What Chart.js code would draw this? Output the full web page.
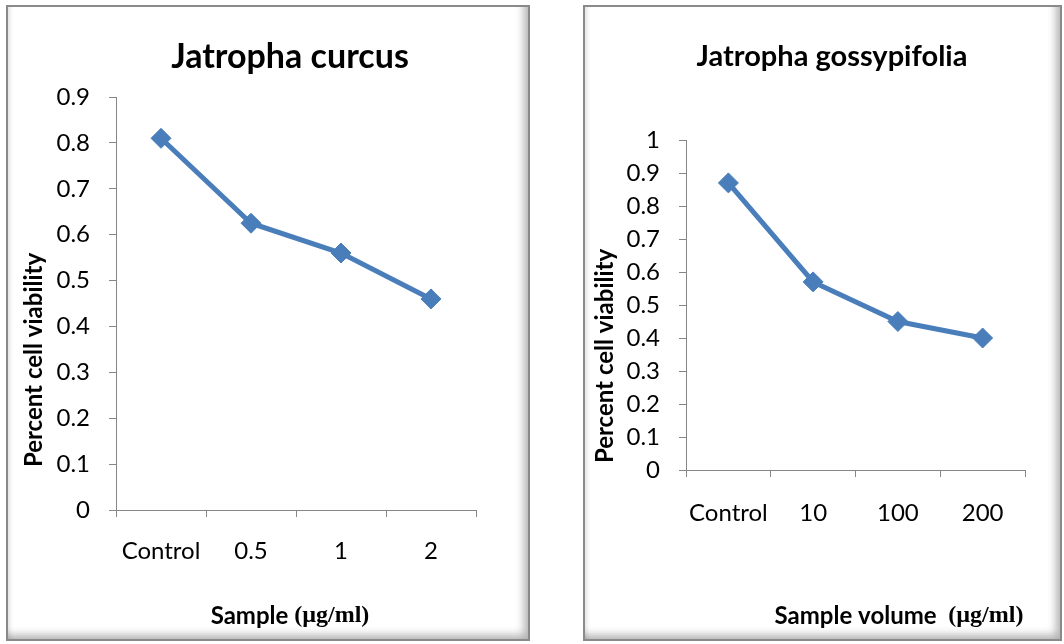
<!DOCTYPE html>
<html>
<head>
<meta charset="utf-8">
<script src="https://cdn.jsdelivr.net/npm/chart.js@4"></script>
<style>
  body { margin: 0; background: #fff; }
  .panel {
    position: absolute;
    top: 5px;
    height: 636px;
    box-sizing: border-box;
    border: 2px solid #8a8a8a;
    background: #fff;
    box-shadow: inset -10px -10px 9px -6px rgba(0, 0, 0, 0.3),
                inset 5px 0 4px -3px rgba(0, 0, 0, 0.12);
  }
  #curcusPanel { left: 6px; width: 524px; }
  #gossypPanel { left: 583px; width: 479px; }
  .panel canvas { position: absolute; left: 0; top: 0; }
</style>
</head>
<body>
<div class="panel" id="curcusPanel"><canvas id="curcusChart" width="520" height="632"></canvas></div>
<div class="panel" id="gossypPanel"><canvas id="gossypChart" width="475" height="632"></canvas></div>
<script>
// Jatropha curcus
const curcusDoses = ['Control', '0.5', '1', '2'];
const curcusViability = [0.81, 0.625, 0.56, 0.46];
const curcusMax = 0.9;

// Jatropha gossypifolia
const gossypDoses = ['Control', '10', '100', '200'];
const gossypViability = [0.87, 0.57, 0.45, 0.40];
const gossypMax = 1;

const blue = '#4a7ebb';
const axisGrey = '#868686';
const sans = 'Lato';

Chart.defaults.font.family = sans;
Chart.defaults.color = '#000';

// draws the chart title and axis titles, each as one or more font runs
const panelText = {
  id: 'panelText',
  afterDraw(chart, args, opts) {
    const ctx = chart.ctx;
    (opts.items || []).forEach(item => {
      ctx.save();
      ctx.translate(item.x, item.y);
      if (item.rotate) ctx.rotate(item.rotate);
      ctx.fillStyle = '#000';
      ctx.textBaseline = 'middle';
      ctx.textAlign = 'left';
      let total = 0;
      item.runs.forEach(r => { ctx.font = r.font; total += ctx.measureText(r.text).width; });
      let x = -total / 2;
      item.runs.forEach(r => {
        ctx.font = r.font;
        ctx.fillText(r.text, x, 0);
        x += ctx.measureText(r.text).width;
      });
      ctx.restore();
    });
  }
};

function makeChart(id, labels, values, yMax, pad, xPad, items) {
  return new Chart(document.getElementById(id), {
    type: 'line',
    data: {
      labels: labels,
      datasets: [{
        data: values,
        borderColor: blue,
        backgroundColor: blue,
        borderWidth: 5,
        pointStyle: 'rectRot',
        pointRadius: 10,
        pointBorderWidth: 1,
        tension: 0
      }]
    },
    options: {
      responsive: false,
      animation: false,
      layout: { padding: pad },
      plugins: {
        legend: { display: false },
        tooltip: { enabled: false },
        panelText: { items: items }
      },
      scales: {
        x: {
          offset: true,
          grid: { offset: true, drawOnChartArea: false, color: axisGrey, tickLength: 7 },
          border: { color: axisGrey, width: 1 },
          ticks: { font: { size: 24 }, padding: xPad, maxRotation: 0 },
          afterFit: s => { s.height = 60; }
        },
        y: {
          min: 0,
          max: yMax,
          grid: { drawOnChartArea: false, color: axisGrey, tickLength: 7 },
          border: { color: axisGrey, width: 1 },
          ticks: {
            stepSize: 0.1,
            font: { size: 24 },
            padding: 19,
            callback: v => String(+v.toFixed(1))
          },
          afterFit: s => { s.width = 60; }
        }
      }
    },
    plugins: [panelText]
  });
}

const boldFont = size => 'bold ' + size + 'px ' + sans;
const unitFont = 'bold 24px "Liberation Serif"';

makeChart('curcusChart', curcusDoses, curcusViability, curcusMax,
  { left: 48, right: 52, top: 90, bottom: 69 }, 20, [
    { x: 282, y: 50, runs: [{ text: 'Jatropha curcus', font: boldFont(34) }] },
    { x: 282, y: 609, runs: [{ text: 'Sample ', font: boldFont(24) }, { text: '(µg/ml)', font: unitFont }] },
    { x: 26, y: 353, rotate: -Math.PI / 2, runs: [{ text: 'Percent cell viability', font: boldFont(24) }] }
  ]);

makeChart('gossypChart', gossypDoses, gossypViability, gossypMax,
  { left: 41, right: 35, top: 133, bottom: 109 }, 22, [
    { x: 247, y: 50, runs: [{ text: 'Jatropha gossypifolia', font: boldFont(29) }] },
    { x: 314, y: 609, runs: [{ text: 'Sample volume  ', font: boldFont(24) }, { text: '(µg/ml)', font: unitFont }] },
    { x: 20, y: 349, rotate: -Math.PI / 2, runs: [{ text: 'Percent cell viability', font: boldFont(24) }] }
  ]);
</script>
</body>
</html>
